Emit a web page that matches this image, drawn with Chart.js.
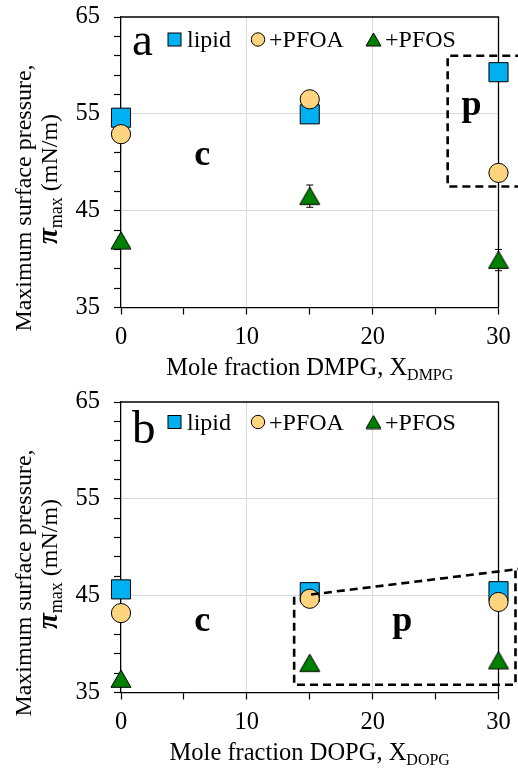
<!DOCTYPE html>
<html>
<head>
<meta charset="utf-8">
<script src="https://cdn.jsdelivr.net/npm/chart.js@4.4.1/dist/chart.umd.min.js"></script>
<style>
  html, body { margin: 0; padding: 0; background: #fff; }
  canvas { display: block; }
</style>
</head>
<body>
<canvas id="chartA" width="518" height="385"></canvas>
<canvas id="chartB" width="518" height="385"></canvas>
<script>
// mole fraction of the anionic lipid (%)
var xValues = [0, 15, 30];

// panel a: DMPG
var lipidA = [54.6, 54.95, 59.3];
var pfoaA = [52.9, 56.5, 48.9];
var pfosA = [41.9, 46.5, 39.9];
var pfosErrA = [0.4, 1.15, 1.1];

// panel b: DOPG
var lipidB = [45.65, 45.36, 45.46];
var pfoaB = [43.2, 44.68, 44.35];
var pfosB = [36.4, 38.03, 38.3];
var pfosErrB = [0.3, 0.3, 0.3];

var yTicks = [35, 37, 39, 41, 43, 45, 47, 49, 51, 53, 55, 57, 59, 61, 63, 65];
var yLabels = [35, 45, 55, 65];
var xTicks = [0, 5, 10, 15, 20, 25, 30];
var xLabels = [0, 10, 20, 30];

var SERIF = '"Liberation Serif", "Times New Roman", serif';
var BLUE = '#00B0F0';
var GOLD = '#FFD47F';
var GREEN = '#008000';

function toPoints(ys) {
    return ys.map(function (y, i) { return { x: xValues[i], y: y }; });
}

// triangle marker centred on its bounding box (like the original markers)
function triangleImage(w) {
    var h = w * 0.866;
    var c = document.createElement('canvas');
    c.width = Math.ceil(w + 2);
    c.height = Math.ceil(h + 2);
    var g = c.getContext('2d');
    g.beginPath();
    g.moveTo(c.width / 2, 1);
    g.lineTo(c.width / 2 + w / 2, h + 1);
    g.lineTo(c.width / 2 - w / 2, h + 1);
    g.closePath();
    g.fillStyle = GREEN;
    g.fill();
    g.lineWidth = 1;
    g.strokeStyle = '#000';
    g.stroke();
    return c;
}
var triBig = triangleImage(20);
var triSmall = triangleImage(15);

function drawRuns(ctx, runs, x, y) {
    var total = 0;
    runs.forEach(function (r) { ctx.font = r.font; total += ctx.measureText(r.text).width; });
    var cx = x - total / 2;
    runs.forEach(function (r) {
        ctx.font = r.font;
        ctx.fillText(r.text, cx, y + (r.dy || 0));
        cx += ctx.measureText(r.text).width;
    });
}

var decoPlugin = {
    id: 'deco',
    beforeDatasetsDraw: function (chart, args, opts) {
        var ctx = chart.ctx, a = chart.chartArea;
        var xs = chart.scales.x, ys = chart.scales.y;
        ctx.save();
        // top and right frame
        ctx.strokeStyle = '#000';
        ctx.lineWidth = 1.3;
        ctx.beginPath();
        ctx.moveTo(a.left, a.top);
        ctx.lineTo(a.right, a.top);
        ctx.lineTo(a.right, a.bottom);
        ctx.stroke();
        // error bars
        chart.data.datasets.forEach(function (ds) {
            if (!ds.errors) return;
            ctx.lineWidth = 1;
            ds.data.forEach(function (p, i) {
                var px = xs.getPixelForValue(p.x);
                var top = ys.getPixelForValue(p.y + ds.errors[i]);
                var bot = ys.getPixelForValue(p.y - ds.errors[i]);
                ctx.beginPath();
                ctx.moveTo(px, top); ctx.lineTo(px, bot);
                ctx.moveTo(px - 3.5, top); ctx.lineTo(px + 3.5, top);
                ctx.moveTo(px - 3.5, bot); ctx.lineTo(px + 3.5, bot);
                ctx.stroke();
            });
        });
        ctx.restore();
    },
    afterDatasetsDraw: function (chart, args, opts) {
        var ctx = chart.ctx, a = chart.chartArea;
        var xs = chart.scales.x, ys = chart.scales.y;
        ctx.save();
        // dashed region outlines
        ctx.strokeStyle = '#000';
        ctx.lineWidth = 2.6;
        ctx.setLineDash([8, 5]);
        opts.regions.forEach(function (path) {
            ctx.beginPath();
            path.forEach(function (pt, i) {
                var px = xs.getPixelForValue(pt[0]), py = ys.getPixelForValue(pt[1]);
                if (i === 0) ctx.moveTo(px, py); else ctx.lineTo(px, py);
            });
            ctx.stroke();
        });
        ctx.setLineDash([]);
        // phase labels
        ctx.fillStyle = '#000';
        ctx.textAlign = 'center';
        ctx.textBaseline = 'alphabetic';
        ctx.font = 'bold 36px ' + SERIF;
        opts.phases.forEach(function (p) {
            ctx.fillText(p.text, xs.getPixelForValue(p.x), ys.getPixelForValue(p.y));
        });

        // panel letter + legend
        var ly = opts.legendY;
        ctx.textAlign = 'left';
        ctx.font = '47px ' + SERIF;
        ctx.fillText(opts.letter, 132, opts.letterBase);
        ctx.lineWidth = 1;
        ctx.strokeStyle = '#000';
        ctx.fillStyle = BLUE;
        ctx.fillRect(168, ly - 6.5, 13, 13);
        ctx.strokeRect(168, ly - 6.5, 13, 13);
        ctx.fillStyle = GOLD;
        ctx.beginPath();
        ctx.arc(258, ly, 6.7, 0, Math.PI * 2);
        ctx.fill(); ctx.stroke();
        ctx.drawImage(triSmall, 373.5 - triSmall.width / 2, ly - triSmall.height / 2);
        ctx.fillStyle = '#000';
        ctx.font = '24px ' + SERIF;
        ctx.fillText('lipid', 187, ly + 7.5);
        ctx.fillText('+PFOA', 269, ly + 7.5);
        ctx.fillText('+PFOS', 385, ly + 7.5);

        // axis titles
        ctx.textAlign = 'left';
        var cx = (a.left + a.right) / 2;
        drawRuns(ctx, [
            { text: 'Mole fraction ' + opts.lipidName + ', X', font: '24.5px ' + SERIF },
            { text: opts.lipidName, font: '16px ' + SERIF, dy: 5 }
        ], cx, 375);

        ctx.save();
        ctx.translate(31, 198);
        ctx.rotate(-Math.PI / 2);
        drawRuns(ctx, [{ text: 'Maximum surface pressure,', font: '24px ' + SERIF }], 0, 0);
        ctx.restore();
        ctx.save();
        ctx.translate(57, 179);
        ctx.rotate(-Math.PI / 2);
        drawRuns(ctx, [
            { text: '\u03c0', font: 'italic bold 29px ' + SERIF },
            { text: 'max', font: '18px ' + SERIF, dy: 5 },
            { text: ' (mN/m)', font: '24px ' + SERIF }
        ], 0, 0);
        ctx.restore();
        ctx.restore();
    }
};

function makeChart(id, lipid, pfoa, pfos, pfosErr, deco) {
    return new Chart(document.getElementById(id), {
        type: 'scatter',
        data: {
            datasets: [
                { label: 'lipid', data: toPoints(lipid), pointStyle: 'rect', pointRadius: 13.5,
                  backgroundColor: BLUE, borderColor: '#000', borderWidth: 1, order: 3 },
                { label: '+PFOA', data: toPoints(pfoa), pointStyle: 'circle', pointRadius: 9.6,
                  backgroundColor: GOLD, borderColor: '#000', borderWidth: 1, order: 2 },
                { label: '+PFOS', data: toPoints(pfos), errors: pfosErr, pointStyle: triBig, pointRadius: 10,
                  backgroundColor: GREEN, borderColor: '#000', borderWidth: 1, order: 1 }
            ]
        },
        options: {
            responsive: false,
            animation: false,
            devicePixelRatio: 1,
            clip: false,
            layout: { padding: { top: 17, right: 19.5, left: 0, bottom: 0 } },
            plugins: {
                legend: { display: false },
                tooltip: { enabled: false },
                deco: deco
            },
            scales: {
                x: {
                    type: 'linear', min: 0, max: 30,
                    afterBuildTicks: function (s) { s.ticks = xTicks.map(function (v) { return { value: v }; }); },
                    afterFit: function (s) { s.height = 77.5; s.paddingLeft = 0; s.paddingRight = 0; },
                    ticks: {
                        autoSkip: false, maxRotation: 0, padding: 8, color: '#000',
                        font: { family: SERIF, size: 24.5 },
                        callback: function (v) { return xLabels.indexOf(v) >= 0 ? String(v) : ''; }
                    },
                    grid: {
                        color: function (c) { return c.tick && (c.tick.value === 10 || c.tick.value === 20) ? '#d9d9d9' : 'rgba(0,0,0,0)'; },
                        tickColor: '#000', tickLength: 7, tickWidth: 1.2
                    },
                    border: { color: '#000', width: 1.3 }
                },
                y: {
                    type: 'linear', min: 35, max: 65,
                    afterBuildTicks: function (s) { s.ticks = yTicks.map(function (v) { return { value: v }; }); },
                    afterFit: function (s) { s.width = 121; s.paddingTop = 0; s.paddingBottom = 0; },
                    ticks: {
                        autoSkip: false, padding: 14, color: '#000',
                        font: { family: SERIF, size: 24.5 },
                        callback: function (v) { return yLabels.indexOf(v) >= 0 ? String(v) : ''; }
                    },
                    grid: {
                        color: function (c) { return c.tick && (c.tick.value === 45 || c.tick.value === 55) ? '#d9d9d9' : 'rgba(0,0,0,0)'; },
                        tickColor: '#000', tickLength: 7, tickWidth: 1.2
                    },
                    border: { color: '#000', width: 1.3 }
                }
            }
        },
        plugins: [decoPlugin]
    });
}

makeChart('chartA', lipidA, pfoaA, pfosA, pfosErrA, {
    letter: 'a', letterBase: 55, legendY: 39.5, lipidName: 'DMPG',
    regions: [[[33, 61.0], [25.96, 61.0], [25.96, 47.5], [33, 47.5]]],
    phases: [{ text: 'c', x: 6.45, y: 49.7 }, { text: 'p', x: 27.85, y: 54.9 }]
});

makeChart('chartB', lipidB, pfoaB, pfosB, pfosErrB, {
    letter: 'b', letterBase: 58, legendY: 37, lipidName: 'DOPG',
    regions: [
        [[15.1, 45.12], [32.2, 47.85]],
        [[13.76, 44.9], [13.76, 35.8], [31.35, 35.8], [31.35, 47.6]]
    ],
    phases: [{ text: 'c', x: 6.45, y: 41.3 }, { text: 'p', x: 22.35, y: 41.35 }]
});
</script>
</body>
</html>
